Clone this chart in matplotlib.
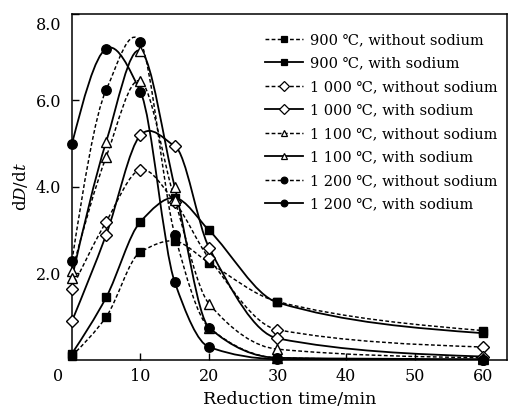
import numpy as np
import matplotlib
matplotlib.use("Agg")
import matplotlib.pyplot as plt
from matplotlib.path import Path
from matplotlib.patches import PathPatch
from matplotlib.lines import Line2D
from matplotlib.transforms import ScaledTranslation

plt.rcParams['font.family'] = ['DejaVu Serif', 'DejaVu Sans']
plt.rcParams['mathtext.fontset'] = 'dejavuserif'

# ---- data ----
time_min = [0, 5, 10, 15, 20, 30, 60]

t900_without = [0.10, 1.00, 2.50, 2.75, 2.25, 1.35, 0.68]
t900_with = [0.15, 1.45, 3.20, 3.75, 3.00, 1.33, 0.62]
t1000_without = [1.65, 3.20, 4.40, 3.65, 2.35, 0.70, 0.30]
t1000_with = [0.90, 2.90, 5.20, 4.95, 2.60, 0.50, 0.08]
t1100_without = [2.05, 4.70, 6.45, 3.70, 1.30, 0.25, 0.05]
t1100_with = [1.90, 5.05, 7.15, 4.00, 0.75, 0.05, 0.02]
t1200_without = [2.30, 6.25, 7.35, 2.90, 0.75, 0.05, 0.00]
t1200_with = [5.00, 7.20, 6.20, 1.80, 0.30, 0.02, 0.00]

labels = ["900 \u2103, without sodium", "900 \u2103, with sodium",
          "1 000 \u2103, without sodium", "1 000 \u2103, with sodium",
          "1 100 \u2103, without sodium", "1 100 \u2103, with sodium",
          "1 200 \u2103, without sodium", "1 200 \u2103, with sodium"]

x_ticks = [0, 10, 20, 30, 40, 50, 60]
y_ticks = [2.0, 4.0, 6.0, 8.0]

series = [t900_without, t900_with, t1000_without, t1000_with,
          t1100_without, t1100_with, t1200_without, t1200_with]
markers = ['s', 's', 'D', 'D', '^', '^', 'o', 'o']
filled = [True, True, False, False, False, False, True, True]
dashed = [True, False, True, False, True, False, True, False]
msizes = [6.3, 6.3, 6.3, 6.3, 7.3, 7.3, 6.8, 6.8]


def tangents(x, y):
    x = np.asarray(x, float); y = np.asarray(y, float)
    n = len(x)
    h = np.diff(x); d = np.diff(y) / h
    m = np.zeros(n)
    for i in range(1, n - 1):
        d0, d1 = d[i - 1], d[i]
        if d0 == 0 or d1 == 0:
            m[i] = 0.0
        elif np.sign(d0) != np.sign(d1):
            m[i] = 0.8 * (y[i + 1] - y[i - 1]) / (x[i + 1] - x[i - 1])
        else:
            h0, h1 = h[i - 1], h[i]
            m[i] = 3 * (h0 + h1) / ((2 * h1 + h0) / d0 + (h1 + 2 * h0) / d1)
    m0 = (3 * d[0] - m[1]) / 2
    if np.sign(m0) != np.sign(d[0]):
        m0 = 0.0
    m[0] = m0
    mn = (3 * d[-1] - m[-2]) / 2
    if np.sign(mn) != np.sign(d[-1]):
        mn = 0.0
    m[-1] = mn
    return x, y, m


def smooth_path(x, y):
    x, y, m = tangents(x, y)
    verts = [(x[0], y[0])]
    codes = [Path.MOVETO]
    for i in range(len(x) - 1):
        hh = x[i + 1] - x[i]
        verts += [(x[i] + hh / 3, y[i] + m[i] * hh / 3),
                  (x[i + 1] - hh / 3, y[i + 1] - m[i + 1] * hh / 3),
                  (x[i + 1], y[i + 1])]
        codes += [Path.CURVE4] * 3
    return Path(verts, codes)


fig = plt.figure(figsize=(5.12, 4.09), dpi=100)
ax = fig.add_axes([0.1406, 0.1198, 0.8496, 0.846])

dash_style = (0, (2.6, 1.6))
handles = []
for ys, mk, fl, da, ms, lab in zip(series, markers, filled, dashed, msizes, labels):
    ls = dash_style if da else '-'
    lw = 1.05 if da else 1.3
    patch = PathPatch(smooth_path(time_min, ys), facecolor='none', edgecolor='black',
                      lw=lw, linestyle=ls, transform=ax.transData)
    ax.add_patch(patch)
    fc = 'black' if fl else 'white'
    ax.plot(time_min, ys, linestyle='none', marker=mk, markersize=ms,
            markerfacecolor=fc, markeredgecolor='black', markeredgewidth=1.0,
            clip_on=False, zorder=3)
    handles.append(Line2D([], [], color='black', lw=lw, linestyle=ls, marker=mk,
                          markersize=4.8, markerfacecolor=fc,
                          markeredgecolor='black', markeredgewidth=0.9))

ax.set_xlim(0, 63.5)
ax.set_ylim(0, 8.0)
ax.set_xticks(x_ticks)
ax.set_xticklabels([str(v) for v in x_ticks])
ax.set_yticks(y_ticks)
ax.set_yticklabels(["%.1f" % v for v in y_ticks])
ax.tick_params(direction='in', length=5, width=1.0, labelsize=11.5)
ax.tick_params(axis='x', pad=6)
ax.tick_params(axis='y', pad=8)
for sp in ax.spines.values():
    sp.set_linewidth(1.1)

# shift "0" label left of the spine and "8.0" label down
lab0 = ax.get_xticklabels()[0]
lab0.set_transform(lab0.get_transform() + ScaledTranslation(-0.14, 0, fig.dpi_scale_trans))
lab8 = ax.get_yticklabels()[-1]
lab8.set_transform(lab8.get_transform() + ScaledTranslation(0, -0.10, fig.dpi_scale_trans))

ax.set_xlabel("Reduction time/min", fontsize=12.5, labelpad=4)
ax.set_ylabel(r"d$D$/d$t$", fontsize=12, labelpad=4)

leg = ax.legend(handles, labels, loc='upper right', frameon=False, fontsize=10.5,
                handlelength=2.6, handletextpad=0.5, labelspacing=0.65,
                borderaxespad=0.0, bbox_to_anchor=(0.993, 0.962))

fig.savefig("out.png", dpi=100)
